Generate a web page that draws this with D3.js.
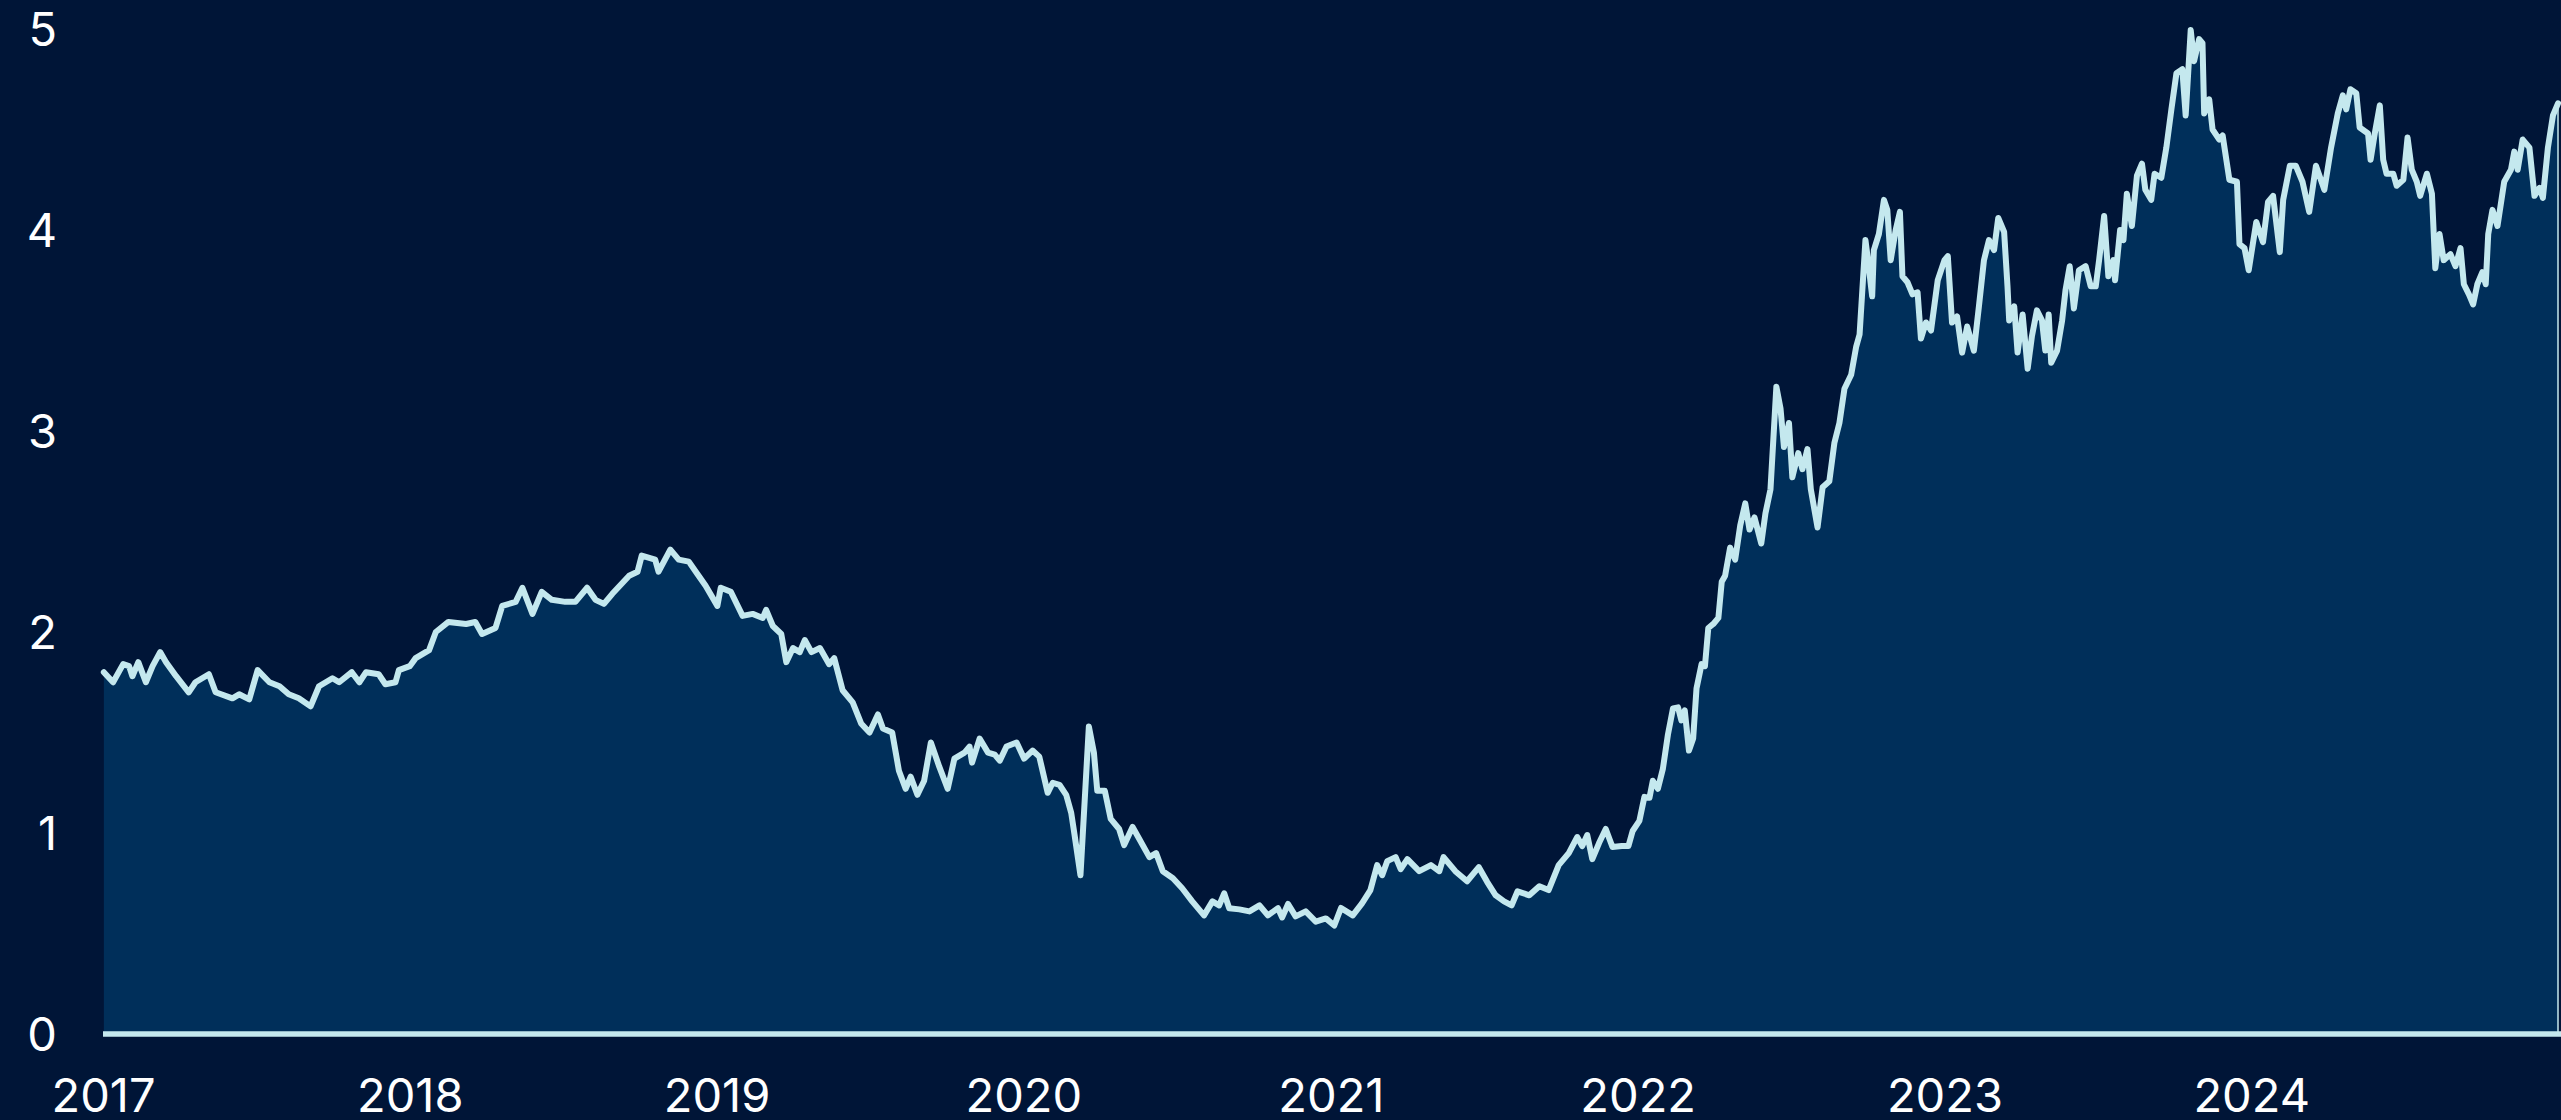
<!DOCTYPE html>
<html>
<head>
<meta charset="utf-8">
<script src="https://cdn.jsdelivr.net/npm/d3@7"></script>
<style>
	html, body { margin: 0; padding: 0; background: #001537; overflow: hidden; }
	svg text { font-family: Inter, "Open Sans", sans-serif; }
</style>
</head>
<body>
<div id="chart"></div>
<script>

// values, date + level
var dates = [
	"2017-01-02","2017-01-13","2017-01-25","2017-02-01","2017-02-05","2017-02-12","2017-02-21","2017-03-01","2017-03-10","2017-03-17",
	"2017-03-29","2017-04-13","2017-04-21","2017-05-07","2017-05-15","2017-06-04","2017-06-12","2017-06-24","2017-07-04","2017-07-18",
	"2017-07-30","2017-08-10","2017-08-22","2017-09-05","2017-09-15","2017-10-01","2017-10-09","2017-10-24","2017-11-02","2017-11-10",
	"2017-11-25","2017-12-03","2017-12-15","2017-12-19",
	"2018-01-01","2018-01-08","2018-01-24","2018-02-01","2018-02-16","2018-03-09","2018-03-20","2018-03-28","2018-04-13","2018-04-21",
	"2018-05-07","2018-05-15","2018-05-27","2018-06-07","2018-06-19","2018-07-05","2018-07-17","2018-07-31","2018-08-10","2018-08-20",
	"2018-08-30","2018-09-19","2018-09-29","2018-10-04","2018-10-20","2018-10-24","2018-11-07","2018-11-17","2018-11-29","2018-12-09",
	"2018-12-19",
	"2019-01-02","2019-01-06","2019-01-18","2019-02-01","2019-02-13","2019-02-25","2019-03-01","2019-03-09","2019-03-19","2019-03-25",
	"2019-04-02","2019-04-10","2019-04-16","2019-04-24","2019-05-04","2019-05-15","2019-05-21","2019-05-31","2019-06-12","2019-06-22",
	"2019-07-02","2019-07-12","2019-07-18","2019-07-29","2019-08-06","2019-08-14","2019-08-20","2019-08-28","2019-09-05","2019-09-13",
	"2019-09-23","2019-10-03","2019-10-11","2019-10-23","2019-10-29","2019-11-01","2019-11-10","2019-11-20","2019-11-28","2019-12-04",
	"2019-12-12","2019-12-24",
	"2020-01-02","2020-01-12","2020-01-20","2020-01-30","2020-02-05","2020-02-13","2020-02-21","2020-02-27","2020-03-02","2020-03-09",
	"2020-03-14","2020-03-19","2020-03-25","2020-03-29","2020-04-07","2020-04-14","2020-04-24","2020-04-30","2020-05-10","2020-05-18",
	"2020-05-30","2020-06-07","2020-06-15","2020-06-27","2020-07-08","2020-07-20","2020-08-03","2020-08-13","2020-08-21","2020-08-27",
	"2020-09-02","2020-09-14","2020-09-26","2020-10-08","2020-10-18","2020-10-30","2020-11-04","2020-11-11","2020-11-20","2020-12-02",
	"2020-12-14","2020-12-26",
	"2021-01-05","2021-01-13","2021-01-27","2021-02-07","2021-02-17","2021-02-25","2021-03-03","2021-03-09","2021-03-19","2021-03-25",
	"2021-04-02","2021-04-16","2021-04-30","2021-05-10","2021-05-15","2021-05-29","2021-06-12","2021-06-26","2021-07-06","2021-07-16",
	"2021-07-26","2021-08-04","2021-08-11","2021-08-25","2021-09-06","2021-09-17","2021-09-29","2021-10-11","2021-10-21","2021-10-27",
	"2021-11-02","2021-11-08","2021-11-16","2021-11-24","2021-12-02","2021-12-13","2021-12-21","2021-12-26",
	"2022-01-03","2022-01-09","2022-01-15","2022-01-19","2022-01-25","2022-01-31","2022-02-06","2022-02-12","2022-02-18","2022-02-22",
	"2022-02-26","2022-03-03","2022-03-08","2022-03-12","2022-03-18","2022-03-22","2022-03-26","2022-04-01","2022-04-07","2022-04-11",
	"2022-04-15","2022-04-21","2022-04-27","2022-05-03","2022-05-09","2022-05-14","2022-05-20","2022-05-28","2022-06-02","2022-06-08",
	"2022-06-15","2022-06-20","2022-06-24","2022-06-30","2022-07-04","2022-07-11","2022-07-16","2022-07-22","2022-07-26","2022-08-03",
	"2022-08-09","2022-08-17","2022-08-23","2022-08-29","2022-09-04","2022-09-12","2022-09-18","2022-09-22","2022-09-29","2022-10-02",
	"2022-10-07","2022-10-09","2022-10-15","2022-10-21","2022-10-25","2022-10-29","2022-11-04","2022-11-09","2022-11-12","2022-11-18",
	"2022-11-24","2022-11-30","2022-12-04","2022-12-10","2022-12-16","2022-12-24",
	"2023-01-01","2023-01-05","2023-01-10","2023-01-16","2023-01-22","2023-01-28","2023-02-05","2023-02-11","2023-02-17","2023-02-23",
	"2023-03-01","2023-03-06","2023-03-13","2023-03-17","2023-03-19","2023-03-25","2023-03-29","2023-04-04","2023-04-10","2023-04-15",
	"2023-04-21","2023-04-27","2023-05-01","2023-05-05","2023-05-08","2023-05-15","2023-05-21","2023-05-25","2023-05-30","2023-06-04",
	"2023-06-10","2023-06-18","2023-06-24","2023-06-30","2023-07-04","2023-07-10","2023-07-15","2023-07-21","2023-07-23","2023-07-29",
	"2023-08-02","2023-08-06","2023-08-12","2023-08-18","2023-08-24","2023-08-28","2023-09-04","2023-09-08","2023-09-16","2023-09-22",
	"2023-09-28","2023-10-04","2023-10-11","2023-10-15","2023-10-21","2023-10-25","2023-10-31","2023-11-04","2023-11-06","2023-11-12",
	"2023-11-16","2023-11-24","2023-11-28","2023-12-06","2023-12-15","2023-12-18","2023-12-24","2023-12-29",
	"2024-01-07","2024-01-15","2024-01-21","2024-01-27","2024-02-04","2024-02-08","2024-02-16","2024-02-23","2024-03-02","2024-03-10",
	"2024-03-18","2024-03-28","2024-04-05","2024-04-13","2024-04-19","2024-04-23","2024-04-28","2024-05-05","2024-05-09","2024-05-19",
	"2024-05-22","2024-05-27","2024-06-02","2024-06-06","2024-06-10","2024-06-18","2024-06-22","2024-06-30","2024-07-05","2024-07-10",
	"2024-07-16","2024-07-20","2024-07-28","2024-08-03","2024-08-07","2024-08-12","2024-08-17","2024-08-25","2024-08-31","2024-09-06",
	"2024-09-10","2024-09-16","2024-09-21","2024-09-26","2024-10-02","2024-10-06","2024-10-09","2024-10-14","2024-10-20","2024-10-28",
	"2024-11-05","2024-11-09","2024-11-13","2024-11-19","2024-11-27","2024-12-03","2024-12-09","2024-12-13","2024-12-19","2024-12-25",
	"2024-12-31"
];

var values = [
	1.80,1.75,1.84,1.83,1.78,1.85,1.75,1.83,1.90,1.85,
	1.78,1.70,1.75,1.79,1.70,1.67,1.69,1.665,1.81,1.75,
	1.73,1.69,1.67,1.63,1.73,1.77,1.75,1.80,1.75,1.80,
	1.79,1.74,1.75,1.81,
	1.83,1.87,1.91,2.00,2.05,2.04,2.05,1.99,2.02,2.13,
	2.15,2.22,2.09,2.20,2.16,2.15,2.15,2.22,2.16,2.14,
	2.19,2.28,2.30,2.38,2.36,2.30,2.41,2.36,2.35,2.29,
	2.23,
	2.13,2.22,2.20,2.08,2.09,2.07,2.11,2.03,1.99,1.85,
	1.92,1.90,1.96,1.90,1.92,1.84,1.87,1.71,1.65,1.545,
	1.50,1.59,1.52,1.50,1.31,1.22,1.28,1.19,1.26,1.45,
	1.33,1.22,1.37,1.40,1.43,1.35,1.47,1.40,1.39,1.36,
	1.43,1.45,
	1.37,1.41,1.38,1.20,1.25,1.24,1.19,1.10,0.99,0.79,
	1.16,1.53,1.40,1.21,1.21,1.07,1.02,0.94,1.03,0.97,
	0.88,0.90,0.81,0.775,0.725,0.66,0.59,0.66,0.64,0.70,
	0.626,0.62,0.61,0.64,0.59,0.626,0.58,0.647,0.585,0.61,
	0.559,0.575,
	0.54,0.627,0.59,0.65,0.716,0.84,0.79,0.86,0.88,0.82,
	0.87,0.81,0.84,0.81,0.88,0.81,0.76,0.83,0.756,0.69,
	0.66,0.64,0.71,0.69,0.735,0.716,0.84,0.90,0.98,0.935,
	0.99,0.87,0.95,1.02,0.93,0.935,0.935,1.01,
	1.06,1.18,1.175,1.26,1.22,1.32,1.49,1.62,1.625,1.56,
	1.61,1.41,1.47,1.72,1.84,1.83,2.02,2.04,2.07,2.25,
	2.28,2.42,2.36,2.53,2.64,2.51,2.57,2.44,2.59,2.71,
	3.22,3.11,2.92,3.04,2.77,2.89,2.81,2.91,2.71,2.52,
	2.72,2.75,2.94,3.04,3.21,3.28,3.42,3.48,3.95,3.85,
	3.67,3.90,3.98,4.15,4.10,3.85,4.00,4.09,3.77,3.74,
	3.68,3.69,3.46,3.54,3.50,3.75,
	3.85,3.87,3.54,3.57,3.39,3.52,3.40,3.62,3.85,3.95,
	3.90,4.06,3.99,3.72,3.55,3.62,3.39,3.58,3.31,3.47,
	3.60,3.55,3.40,3.58,3.34,3.40,3.55,3.70,3.82,3.61,
	3.80,3.82,3.72,3.72,3.85,4.07,3.77,3.85,3.75,4.00,
	3.95,4.18,4.02,4.27,4.33,4.20,4.15,4.28,4.26,4.41,
	4.60,4.78,4.80,4.57,4.995,4.84,4.95,4.93,4.58,4.65,
	4.50,4.45,4.47,4.25,4.24,3.93,3.91,3.80,
	4.04,3.94,4.14,4.17,3.89,4.15,4.32,4.32,4.24,4.09,
	4.32,4.20,4.41,4.58,4.67,4.60,4.70,4.68,4.51,4.48,
	4.35,4.48,4.62,4.35,4.28,4.28,4.22,4.25,4.46,4.30,
	4.24,4.17,4.28,4.18,3.81,3.98,3.85,3.88,3.82,3.91,
	3.73,3.68,3.63,3.73,3.79,3.73,3.98,4.10,4.02,4.24,
	4.30,4.39,4.30,4.45,4.41,4.17,4.21,4.16,4.41,4.57,
	4.63
];

var yTicks = [0, 1, 2, 3, 4, 5];
var startDate = "2017-01-01", endDate = "2024-12-31";

var width = 2561, height = 1120;
// note: "top" is taken by window.top, so plot edges get their own names
var plotLeft = 103, plotRight = 2558, plotTop = 29, plotBottom = 1034;

var parse = d3.timeParse("%Y-%m-%d");
var data = dates.map(function(d, i){ return { date: parse(d), value: values[i] }; });

var svg = d3.select("#chart").append("svg")
	.attr("width", width)
	.attr("height", height);

svg.append("rect").attr("width", width).attr("height", height).attr("fill", "#001537");

var x = d3.scaleTime()
	.domain([parse(startDate), parse(endDate)])
	.range([plotLeft, plotRight]);

var y = d3.scaleLinear()
	.domain([0, 5])
	.range([plotBottom, plotTop]);

var area = d3.area()
	.x(function(d){ return x(d.date); })
	.y0(y(0))
	.y1(function(d){ return y(d.value); });

var line = d3.line()
	.x(function(d){ return x(d.date); })
	.y(function(d){ return y(d.value); });

svg.append("path")
	.datum(data)
	.attr("d", area)
	.attr("fill", "#002f5a");

// thin edge down the right side of the area
var last = data[data.length - 1];
svg.append("line")
	.attr("x1", x(last.date)).attr("x2", x(last.date))
	.attr("y1", y(last.value)).attr("y2", y(0))
	.attr("stroke", "#c4e8ee")
	.attr("stroke-width", 1.5);

svg.append("path")
	.datum(data)
	.attr("d", line)
	.attr("fill", "none")
	.attr("stroke", "#c4e8ee")
	.attr("stroke-width", 6)
	.attr("stroke-linejoin", "round")
	.attr("stroke-linecap", "round");

// baseline
svg.append("line")
	.attr("x1", plotLeft).attr("x2", width)
	.attr("y1", y(0)).attr("y2", y(0))
	.attr("stroke", "#c4e8ee")
	.attr("stroke-width", 5.5);

var yAxis = svg.append("g")
	.attr("transform", "translate(" + plotLeft + ",0)")
	.call(d3.axisLeft(y).tickValues(yTicks).tickSize(0).tickPadding(46).tickFormat(d3.format("d")));

var xAxis = svg.append("g")
	.attr("transform", "translate(0," + y(0) + ")")
	.call(d3.axisBottom(x).ticks(d3.timeYear.every(1)).tickSize(0).tickPadding(45).tickFormat(d3.timeFormat("%Y")));

svg.selectAll(".domain").remove();
svg.selectAll(".tick text")
	.attr("fill", "#ffffff")
	.style("font-size", "47px")
	.style("font-family", "Inter, 'Open Sans', sans-serif");
yAxis.selectAll(".tick text").attr("dy", "0.36em");

</script>
</body>
</html>
